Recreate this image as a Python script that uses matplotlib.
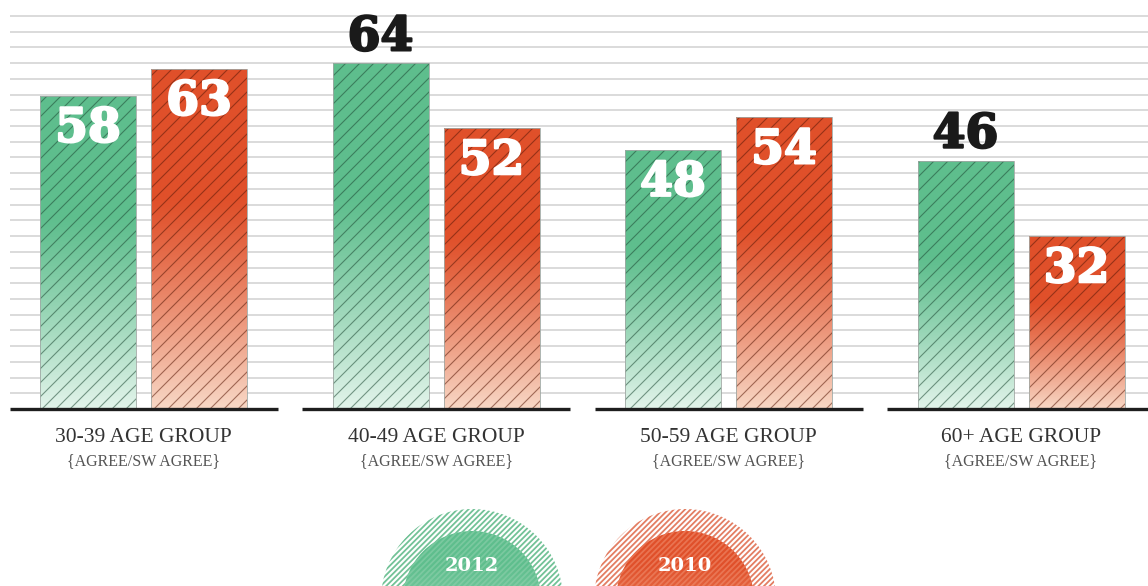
import numpy as np
import matplotlib
matplotlib.use("Agg")
import matplotlib.pyplot as plt
import matplotlib.patheffects as pe
from matplotlib.patches import Rectangle, Circle
from matplotlib.collections import LineCollection
from matplotlib.colors import to_rgb

# ---------------- data ----------------
categories = ["30-39 AGE GROUP", "40-49 AGE GROUP", "50-59 AGE GROUP", "60+ AGE GROUP"]
sublabel = "{AGREE/SW AGREE}"
series_names = ["2012", "2010"]
values_2012 = [58, 64, 48, 46]
values_2010 = [63, 52, 54, 32]
# which value labels sit above their bar (black) instead of inside (white)
outside_2012 = [False, True, False, True]
outside_2010 = [False, False, False, False]

# ---------------- style ----------------
W, H = 1148, 586
BASE_PX = 409          # baseline pixel row
PX_PER_UNIT = 5.4
GREEN = "#5ebe8d"
GREEN_LIGHT = "#e3f4eb"
RED = "#e0502a"
RED_LIGHT = "#f8d8c6"
plt.rcParams["hatch.linewidth"] = 0.9

fig = plt.figure(figsize=(W / 100, H / 100), dpi=100)
fig.patch.set_facecolor("white")

ax = fig.add_axes([0, (H - BASE_PX) / H, 1, BASE_PX / H])
ax.set_xlim(0, W)
ytop = BASE_PX / PX_PER_UNIT
ax.set_ylim(0, ytop)
ax.axis("off")

# horizontal rules
grid_step = 15.72 / PX_PER_UNIT
grid_vals = [grid_step * j for j in range(1, 26)]
ax.hlines(grid_vals, 10, W, colors="#d4d4d4", linewidth=1.2, zorder=0)

group_centers = [143.5 + 292.5 * i for i in range(len(categories))]
bar_w = 96
offset = 55.5


def gradient_bar(x0, v, c_top, c_bot, hatch_col):
    rect = Rectangle((x0, 0), bar_w, v, facecolor="none",
                     edgecolor="#a0a8a4", linewidth=0.6, zorder=4)
    ax.add_patch(rect)
    n = 256
    f = np.linspace(0, 1, n)[:, None]  # 0 top -> 1 bottom
    t = np.clip((f - 0.38) / 0.62, 0, 1) ** 1.2
    ct = np.array(to_rgb(c_top))
    cb = np.array(to_rgb(c_bot))
    img = ct[None, None, :] * (1 - t[..., None]) + cb[None, None, :] * t[..., None]
    im = ax.imshow(img, extent=[x0, x0 + bar_w, 0, v], aspect="auto",
                   origin="upper", zorder=2, interpolation="bilinear")
    im.set_clip_path(rect)
    # diagonal hatch lines (45 deg in pixel space)
    hpx = v * PX_PER_UNIT
    step = 14.0
    cs = np.arange(np.floor((x0 - hpx) / step) * step, x0 + bar_w + step, step)
    segs = [[(c, 0), (c + hpx + 20, (hpx + 20) / PX_PER_UNIT)] for c in cs]
    lc = LineCollection(segs, colors=hatch_col, linewidths=0.8, alpha=0.55, zorder=3)
    ax.add_collection(lc)
    lc.set_clip_path(rect)


num_font = dict(family="DejaVu Serif", fontweight="bold", fontsize=34)
in_off = 46 / PX_PER_UNIT
out_off = 13 / PX_PER_UNIT

for i, cx in enumerate(group_centers):
    for v, outside, dx, ctop, cbot, hc in [
        (values_2012[i], outside_2012[i], -offset, GREEN, GREEN_LIGHT, "#1f4a35"),
        (values_2010[i], outside_2010[i], offset, RED, RED_LIGHT, "#5a1a08"),
    ]:
        x0 = cx + dx - bar_w / 2
        gradient_bar(x0, v, ctop, cbot, hc)
        col = "#1a1a1a" if outside else "white"
        ypos = v + out_off if outside else v - in_off
        ax.text(cx + dx, ypos, str(v), ha="center", va="baseline", color=col,
                zorder=6, path_effects=[pe.withStroke(linewidth=1.6, foreground=col)],
                **num_font)
    # baseline segment
    ax.plot([cx - 134, cx + 134], [0, 0], color="#1e1e1e", linewidth=2.4,
            solid_capstyle="butt", zorder=7, clip_on=False)
    ax.text(cx, (BASE_PX - 437) / PX_PER_UNIT, categories[i], ha="center", va="center",
            family="Liberation Serif", fontsize=15.5, color="#333333", clip_on=False)
    ax.text(cx, (BASE_PX - 461) / PX_PER_UNIT, sublabel, ha="center", va="center",
            family="Liberation Serif", fontsize=11.5, color="#555555", clip_on=False)

# ---------------- legend circles ----------------
lax = fig.add_axes([0, 0, 1, 1], facecolor="none")
lax.set_xlim(0, W)
lax.set_ylim(H, 0)
lax.axis("off")

plt.rcParams["hatch.linewidth"] = 1.3
legend_specs = [
    (series_names[0], 472, GREEN, "#72c297", "#8ed0ac", "#a6dcbf"),
    (series_names[1], 685, RED, "#e37e63", "#f08c6c", "#f3a487"),
]
for name, cx, solid, ring_col, inner_hatch, inner_light in legend_specs:
    cy = 600
    outer = Circle((cx, cy), 91, facecolor="white", edgecolor=ring_col,
                   linewidth=0, hatch="//////", zorder=1)
    lax.add_patch(outer)
    clip = Circle((cx, cy), 69, facecolor="none", edgecolor="none", zorder=2)
    lax.add_patch(clip)
    n = 128
    f = np.linspace(0, 1, n)[:, None]
    t = np.clip((f - 0.25) / 0.75, 0, 1)
    ct = np.array(to_rgb(solid))
    cb = np.array(to_rgb(inner_light))
    img = ct[None, None, :] * (1 - t[..., None]) + cb[None, None, :] * t[..., None]
    im = lax.imshow(img, extent=[cx - 69, cx + 69, cy - 69 + 138, cy - 69],
                    aspect="auto", zorder=2, interpolation="bilinear")
    im.set_clip_path(clip)
    inner = Circle((cx, cy), 69, facecolor="none", edgecolor=inner_hatch,
                   linewidth=0, hatch="//////", zorder=3, alpha=0.6)
    lax.add_patch(inner)
    lax.text(cx, 566, name, ha="center", va="center", color="white",
             family="DejaVu Serif", fontweight="bold", fontsize=14, zorder=4)

lax.set_xlim(0, W)
lax.set_ylim(H, 0)
fig.savefig("out.png", dpi=100, facecolor="white")
